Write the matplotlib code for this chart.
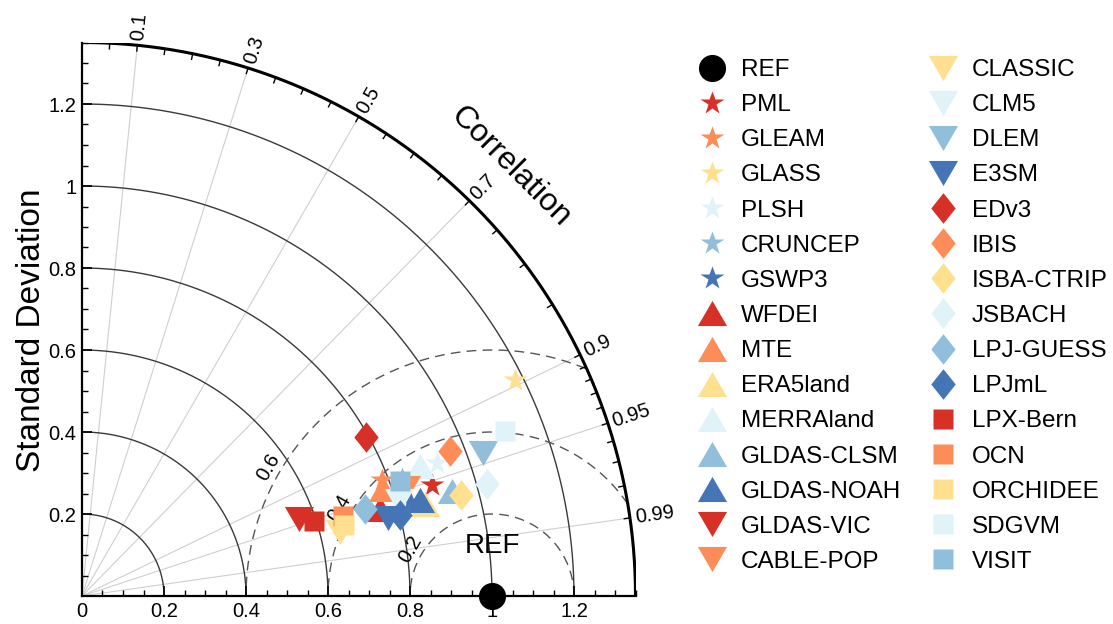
import numpy as np
import matplotlib.pyplot as plt
from matplotlib.ticker import FormatStrFormatter, FixedLocator

plt.rcParams['font.family'] = ['Liberation Sans', 'DejaVu Sans']

# six-step RdYlBu palette used for every marker family
palette = ['#d73027', '#fc8d59', '#fee090', '#e0f3f8', '#91bfdb', '#4575b4']

names = ['PML', 'GLEAM', 'GLASS', 'PLSH', 'CRUNCEP', 'GSWP3',
         'WFDEI', 'MTE', 'ERA5land', 'MERRAland', 'GLDAS-CLSM', 'GLDAS-NOAH',
         'GLDAS-VIC', 'CABLE-POP', 'CLASSIC', 'CLM5', 'DLEM', 'E3SM',
         'EDv3', 'IBIS', 'ISBA-CTRIP', 'JSBACH', 'LPJ-GUESS', 'LPJmL',
         'LPX-Bern', 'OCN', 'ORCHIDEE', 'SDGVM', 'VISIT']

std_dev = [0.895, 0.783, 1.180, 0.924, 0.830, 0.832,
           0.758, 0.780, 0.865, 0.883, 0.938, 0.857,
           0.561, 0.832, 0.648, 0.806, 1.039, 0.771,
           0.793, 0.965, 0.956, 1.024, 0.722, 0.800,
           0.595, 0.666, 0.661, 1.107, 0.825]

correlation = [0.953, 0.933, 0.895, 0.936, 0.939, 0.961,
               0.960, 0.942, 0.966, 0.933, 0.962, 0.962,
               0.943, 0.949, 0.971, 0.958, 0.942, 0.969,
               0.873, 0.930, 0.966, 0.964, 0.956, 0.969,
               0.951, 0.956, 0.965, 0.932, 0.940]

ref_std = 1.0
max_std = 1.35
std_arcs = [0.2, 0.4, 0.6, 0.8, 1.0, 1.2]
rms_circles = [0.2, 0.4, 0.6]
corr_lines = [0.1, 0.3, 0.5, 0.7, 0.9, 0.95, 0.99]

# marker shapes (custom verts so the aspect matches the original)
star = '*'
tri_up = [(0, 0.86), (1, -0.86), (-1, -0.86), (0, 0.86)]
tri_down = [(0, -0.86), (1, 0.86), (-1, 0.86), (0, -0.86)]
diamond = [(0, 1), (0.8, 0), (0, -1), (-0.8, 0), (0, 1)]
square = 's'
shapes = [(star, 17.5)] * 6 + [(tri_up, 21)] * 6 + [(tri_down, 21)] * 6 + \
         [(diamond, 22)] * 6 + [(square, 15)] * 5
colors = palette * 4 + palette[:5]

fig = plt.figure(figsize=(11.13, 6.24), dpi=100)
ax = fig.add_axes([82 / 1113, 28 / 624, 553.5 / 1113, 553.5 / 624])
ax.set_xlim(0, max_std)
ax.set_ylim(0, max_std)

for s in ['top', 'right']:
    ax.spines[s].set_visible(False)
for s in ['left', 'bottom']:
    ax.spines[s].set_linewidth(1.6)

ax.xaxis.set_major_locator(FixedLocator(np.arange(0, 1.21, 0.2)))
ax.yaxis.set_major_locator(FixedLocator(np.arange(0.2, 1.21, 0.2)))
minors = [m for m in np.arange(0.05, 1.351, 0.05) if abs(m / 0.2 - round(m / 0.2)) > 0.01]
ax.xaxis.set_minor_locator(FixedLocator(minors))
ax.yaxis.set_minor_locator(FixedLocator(minors))
ax.xaxis.set_major_formatter(FormatStrFormatter('%g'))
ax.yaxis.set_major_formatter(FormatStrFormatter('%g'))
ax.tick_params(which='major', direction='in', length=7, width=1.2, labelsize=14.5, pad=4)
ax.tick_params(which='minor', direction='in', length=4, width=1.0)

th = np.linspace(0, np.pi / 2, 300)
for r in std_arcs:
    ax.plot(r * np.cos(th), r * np.sin(th), color='#3a3a3a', lw=1.0, zorder=1)
ax.plot(max_std * np.cos(th), max_std * np.sin(th), color='black', lw=2.2, zorder=3)

for c in corr_lines:
    a = np.arccos(c)
    ax.plot([0, max_std * np.cos(a)], [0, max_std * np.sin(a)], color='#cfcfcf', lw=0.8, zorder=0)
    ax.text(1.363 * np.cos(a), 1.363 * np.sin(a), f'{c:g}', rotation=np.degrees(a),
            rotation_mode='anchor', ha='left', va='center', fontsize=14.5)

tick_corr = list(np.arange(0.05, 0.9, 0.05)) + list(np.arange(0.9, 0.995, 0.01))
for c in tick_corr:
    a = np.arccos(c)
    ax.plot([max_std * np.cos(a), (max_std - 0.014) * np.cos(a)],
            [max_std * np.sin(a), (max_std - 0.014) * np.sin(a)], color='black', lw=1.0, zorder=3)

tc = np.linspace(0, np.pi, 600)
for r in rms_circles:
    x = ref_std + r * np.cos(tc)
    y = r * np.sin(tc)
    keep = np.hypot(x, y) <= max_std
    ax.plot(x[keep], y[keep], color='#555555', lw=1.0, ls=(0, (7, 4.5)), zorder=1)
    la = np.radians(150)
    ax.text(ref_std + (r + 0.03) * np.cos(la), (r + 0.03) * np.sin(la), f'{r:g}',
            rotation=60, ha='center', va='center', fontsize=14.5, zorder=2)

handles = []
h, = ax.plot(ref_std, 0, 'o', color='black', ms=18.5, clip_on=False, zorder=6, label='REF')
handles.append(h)
for i, name in enumerate(names):
    a = np.arccos(correlation[i])
    m, ms = shapes[i]
    h, = ax.plot(std_dev[i] * np.cos(a), std_dev[i] * np.sin(a), ls='none', marker=m, ms=ms,
                 color=colors[i], mec='none', zorder=4, label=name)
    handles.append(h)

ax.text(ref_std, 0.122, 'REF', fontsize=20, ha='center', va='center')
ax.text(1.046, 1.046, 'Correlation', rotation=-45, fontsize=23, ha='center', va='center')
ax.text(-0.122, 0.649, 'Standard Deviation', rotation=90, fontsize=24, ha='center', va='center')

fig.legend(handles=handles, loc='upper left', bbox_to_anchor=(696 / 1113, 1 - 59 / 624),
           ncol=2, frameon=False, fontsize=17.5, handlelength=1.3, handletextpad=0.55,
           labelspacing=0.54, columnspacing=1.05, borderaxespad=0, borderpad=0)

fig.savefig('out.png', dpi=100)
